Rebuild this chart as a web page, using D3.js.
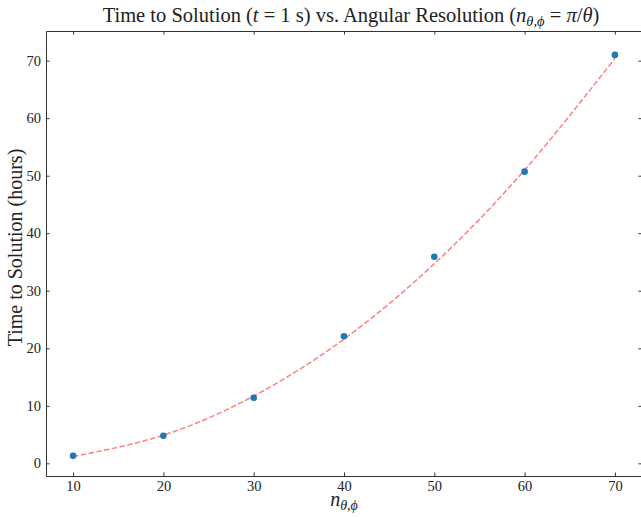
<!DOCTYPE html>
<html>
<head>
<meta charset="utf-8">
<script src="https://cdn.jsdelivr.net/npm/d3@7"></script>
<style>
  body { margin: 0; background: #fff; }
  text { font-family: "Liberation Serif", "DejaVu Serif", serif; fill: #222; }
</style>
</head>
<body>
<div id="canvas"></div>
<script>
// Datos: resolucion angular vs tiempo a la solucion (horas)
const resolutions = [10, 20, 30, 40, 50, 60, 70];
const hours = [1.3, 4.8, 11.4, 22.1, 35.9, 50.7, 71.0];

// Curva de ajuste
const fitX = [10, 20, 30, 40, 50, 60, 70];
const fitY = [1.2, 4.9, 11.7, 21.6, 34.7, 51.0, 70.4];

const xTicks = [10, 20, 30, 40, 50, 60, 70];
const yTicks = [0, 10, 20, 30, 40, 50, 60, 70];

const width = 641;
const height = 517;
const margin = {top: 31, left: 46, bottom: 41, right: -1};
const iwidth = width - margin.left - margin.right;
const iheight = height - margin.top - margin.bottom;

const svg = d3.select("#canvas").append("svg")
    .attr("width", width)
    .attr("height", height);

const g = svg.append("g").attr("transform", `translate(${margin.left}, ${margin.top})`);

const x = d3.scaleLinear().domain([7, 73]).range([0, iwidth]);
const y = d3.scaleLinear().domain([-2.2, 75.15]).range([iheight, 0]);

// Ejes con ticks hacia adentro en los cuatro lados
function styleAxis(sel) {
    sel.select(".domain").attr("stroke", "#333").attr("stroke-width", 1);
    sel.selectAll(".tick line").attr("stroke", "#333");
    sel.selectAll(".tick text").style("font-size", "14.5px").attr("fill", "#333");
}

g.append("g")
    .attr("transform", `translate(0, ${iheight})`)
    .call(d3.axisBottom(x).tickValues(xTicks).tickSizeInner(-3.5).tickSizeOuter(0).tickPadding(5))
    .call(styleAxis);

g.append("g")
    .call(d3.axisTop(x).tickValues(xTicks).tickSizeInner(-3.5).tickSizeOuter(0).tickFormat(""))
    .call(styleAxis);

g.append("g")
    .call(d3.axisLeft(y).tickValues(yTicks).tickSizeInner(-3.5).tickSizeOuter(0).tickPadding(5))
    .call(styleAxis);

g.append("g")
    .attr("transform", `translate(${iwidth}, 0)`)
    .call(d3.axisRight(y).tickValues(yTicks).tickSizeInner(-3.5).tickSizeOuter(0).tickFormat(""))
    .call(styleAxis);

// Linea de ajuste discontinua
const line = d3.line()
    .x(d => x(d[0]))
    .y(d => y(d[1]))
    .curve(d3.curveNatural);

g.append("path")
    .datum(d3.zip(fitX, fitY))
    .attr("fill", "none")
    .attr("stroke", "#ff0000")
    .attr("stroke-opacity", 0.5)
    .attr("stroke-width", 1.5)
    .attr("stroke-dasharray", "5.5,2.4")
    .attr("d", line);

// Puntos
g.selectAll("circle.point")
    .data(d3.zip(resolutions, hours))
    .enter().append("circle")
    .attr("class", "point")
    .attr("fill", "#1f77b4")
    .attr("cx", d => x(d[0]))
    .attr("cy", d => y(d[1]))
    .attr("r", 3.3);

// Titulo
const title = svg.append("text")
    .attr("text-anchor", "middle")
    .attr("x", margin.left + iwidth / 2 + 7)
    .attr("y", 22)
    .style("font-size", "20.5px");
title.append("tspan").text("Time to Solution (");
title.append("tspan").style("font-style", "italic").text("t");
title.append("tspan").text(" = 1 s) vs.  Angular Resolution (");
title.append("tspan").style("font-style", "italic").text("n");
title.append("tspan").style("font-style", "italic").style("font-size", "14.5px").attr("dy", 4).text("θ,ϕ");
title.append("tspan").attr("dy", -4).text(" = ");
title.append("tspan").style("font-style", "italic").text("π");
title.append("tspan").text("/");
title.append("tspan").style("font-style", "italic").text("θ");
title.append("tspan").text(")");

// Etiqueta eje x
const xlabel = svg.append("text")
    .attr("text-anchor", "middle")
    .attr("x", margin.left + iwidth / 2)
    .attr("y", 506)
    .style("font-size", "20px");
xlabel.append("tspan").style("font-style", "italic").text("n");
xlabel.append("tspan").style("font-style", "italic").style("font-size", "14px").attr("dy", 4).text("θ,ϕ");

// Etiqueta eje y
svg.append("text")
    .attr("text-anchor", "middle")
    .attr("transform", `translate(22, ${margin.top + iheight / 2 - 6}) rotate(-90)`)
    .style("font-size", "20px")
    .text("Time to Solution (hours)");
</script>
</body>
</html>
